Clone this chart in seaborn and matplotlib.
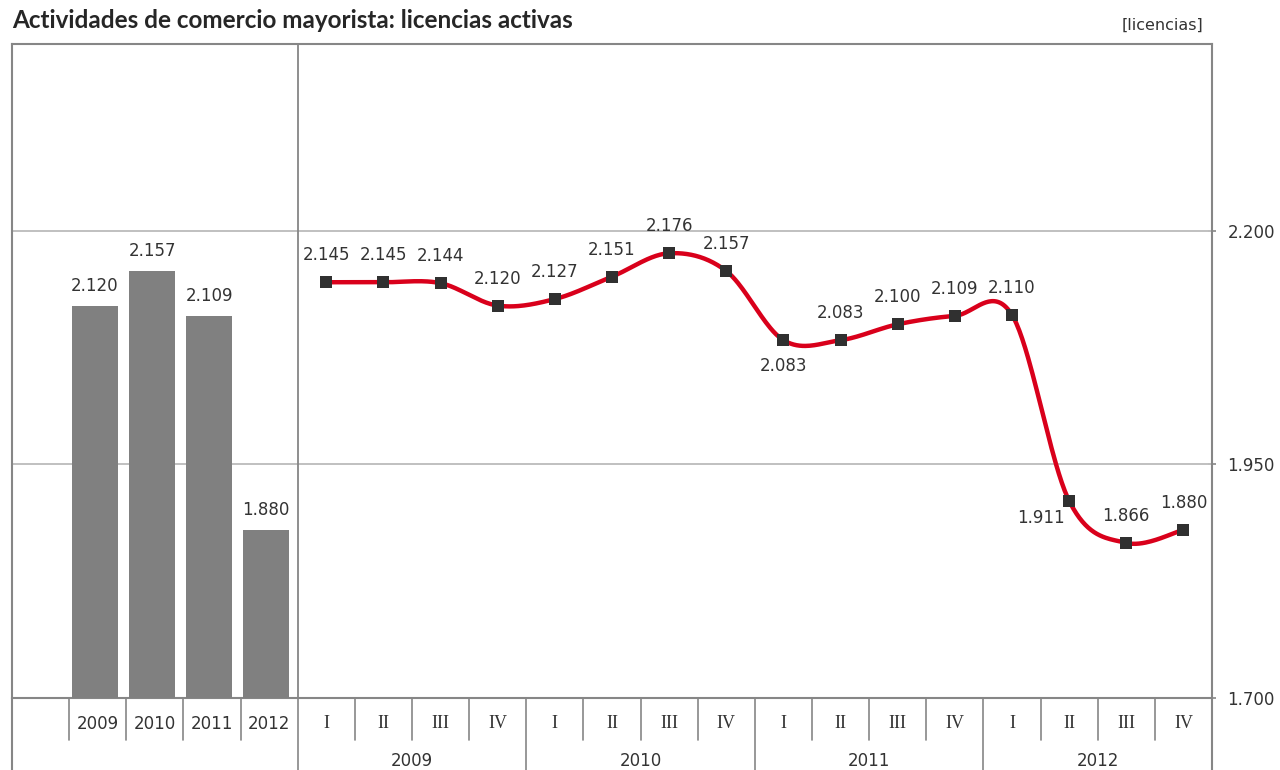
import numpy as np
import pandas as pd
import matplotlib
matplotlib.use("Agg")
import matplotlib.pyplot as plt
import seaborn as sns
from matplotlib.lines import Line2D

# ---------------- data ----------------
years = ["2009", "2010", "2011", "2012"]
annual_values = [2120, 2157, 2109, 1880]
quarters = ["I", "II", "III", "IV"] * 4
quarter_values = [2145, 2145, 2144, 2120,
                  2127, 2151, 2176, 2157,
                  2083, 2083, 2100, 2109,
                  2110, 1911, 1866, 1880]
y_ticks = [1700, 1950, 2200]

# ---------------- style ----------------
sns.set_theme(style="white")
plt.rcParams['font.family'] = ['DejaVu Sans']

RED = "#D9001B"
BAR = "#808080"
AX = "#868686"
GRID = "#C0C0C0"
TXT = "#333333"

fig = plt.figure(figsize=(12.8, 7.7), dpi=100)
W, H = 1280, 770
L, R, T, B = 12, 1212, 44, 698
ax = fig.add_axes([L / W, (H - B) / H, (R - L) / W, (B - T) / H])

ymin, ymax = 1700, 2400
n_slots = 1 + len(years) + len(quarter_values)
bar_pos = np.arange(1, 1 + len(years))
q_pos = np.arange(1 + len(years), n_slots)

# bars
sns.barplot(x=bar_pos - 0.05, y=annual_values, native_scale=True, width=0.8,
            color=BAR, saturation=1, linewidth=0, ax=ax, zorder=3)

# Excel-like smoothed line (Catmull-Rom through the data points)
def smooth(xs, ys, n=40):
    xs = np.asarray(xs, float); ys = np.asarray(ys, float)
    px = np.concatenate([[xs[0]], xs, [xs[-1]]])
    py = np.concatenate([[ys[0]], ys, [ys[-1]]])
    outx, outy = [], []
    t = np.linspace(0, 1, n)
    for i in range(1, len(px) - 2):
        p0, p1, p2, p3 = (np.array([px[j], py[j]]) for j in (i - 1, i, i + 1, i + 2))
        c1 = p1 + (p2 - p0) / 6
        c2 = p2 - (p3 - p1) / 6
        pts = ((1 - t)[:, None] ** 3 * p1 + 3 * ((1 - t) ** 2 * t)[:, None] * c1
               + 3 * ((1 - t) * t ** 2)[:, None] * c2 + (t ** 3)[:, None] * p2)
        outx.extend(pts[:, 0]); outy.extend(pts[:, 1])
    return np.array(outx), np.array(outy)

sx, sy = smooth(q_pos, quarter_values)
curve = pd.DataFrame({"x": sx, "y": sy})
sns.lineplot(data=curve, x="x", y="y", sort=False, color=RED, lw=3.2,
             ax=ax, zorder=4)
sns.scatterplot(x=q_pos, y=quarter_values, marker="s", s=70, color="#303030",
                edgecolor="#303030", linewidth=0, ax=ax, zorder=5)

def fmt(v):
    return f"{v:,}".replace(",", ".")

# bar labels
for x, v in zip(bar_pos - 0.05, annual_values):
    ax.annotate(fmt(v), (x, v), xytext=(0, 20), textcoords="offset pixels",
                ha="center", va="center", fontsize=12, color=TXT, zorder=6)

# line labels (offsets in pixels)
offsets = {8: (0, 26), 13: (-28, 17)}
for i, (x, v) in enumerate(zip(q_pos, quarter_values)):
    dx, dy = offsets.get(i, (0, 27))
    if i in offsets:
        dy = -dy
    ax.annotate(fmt(v), (x, v), xytext=(dx, dy), textcoords="offset pixels",
                ha="center", va="center", fontsize=12, color=TXT, zorder=6)

# axes
ax.set_xlim(-0.5, n_slots - 0.5)
ax.set_ylim(ymin, ymax)
ax.set_xlabel(""); ax.set_ylabel("")
ax.set_xticks([])
ax.yaxis.tick_right()
ax.set_yticks(y_ticks)
ax.set_yticklabels([fmt(v) for v in y_ticks], fontsize=12, color=TXT)
ax.tick_params(axis="y", which="major", length=6, width=1.2, color=AX,
               direction="inout", pad=8, right=True, left=False)
for v in y_ticks[1:]:
    ax.axhline(v, color=GRID, lw=1.4, zorder=1)
for s in ax.spines.values():
    s.set_color(AX); s.set_linewidth(1.5)
ax.grid(False)

# divider between annual and quarterly
ax.axvline(len(years) + 0.5, color=AX, lw=1.3, zorder=2)

# category axis below
tr = ax.get_xaxis_transform()
ph = B - T
def yax(px):
    return (B - px) / ph

short_end = yax(740)
long_end = yax(770)
for x in np.arange(0.5, n_slots - 0.5, 1.0):
    is_group = (x == len(years) + 0.5) or (x > len(years) + 0.5 and (x - (len(years) + 0.5)) % 4 == 0)
    end = long_end if is_group else short_end
    ax.add_line(Line2D([x, x], [0, end], transform=tr, color=AX, lw=1.2, clip_on=False))
for x in (-0.5, n_slots - 0.5):
    ax.add_line(Line2D([x, x], [0, long_end], transform=tr, color=AX, lw=1.5, clip_on=False))

for x, y in zip(bar_pos, years):
    ax.text(x, yax(724), y, transform=tr, ha="center", va="center",
            fontsize=12, color=TXT)
for x, q in zip(q_pos, quarters):
    ax.text(x, yax(724), q, transform=tr, ha="center", va="center",
            fontsize=13, color=TXT, family=["Liberation Serif"])
for k, y in enumerate(years):
    xc = q_pos[4 * k:4 * k + 4].mean()
    ax.text(xc, yax(761), y, transform=tr, ha="center", va="center",
            fontsize=12, color=TXT)

# titles
fig.text(12 / W, 1 - 20 / H, "Actividades de comercio mayorista: licencias activas",
         ha="left", va="center", fontsize=17.5, fontweight="bold",
         family=["Lato", "DejaVu Sans"], color="#262626")
fig.text(1203 / W, 1 - 25 / H, "[licencias]", ha="right", va="center",
         fontsize=11.5, color=TXT)

fig.savefig("out.png", dpi=100)
